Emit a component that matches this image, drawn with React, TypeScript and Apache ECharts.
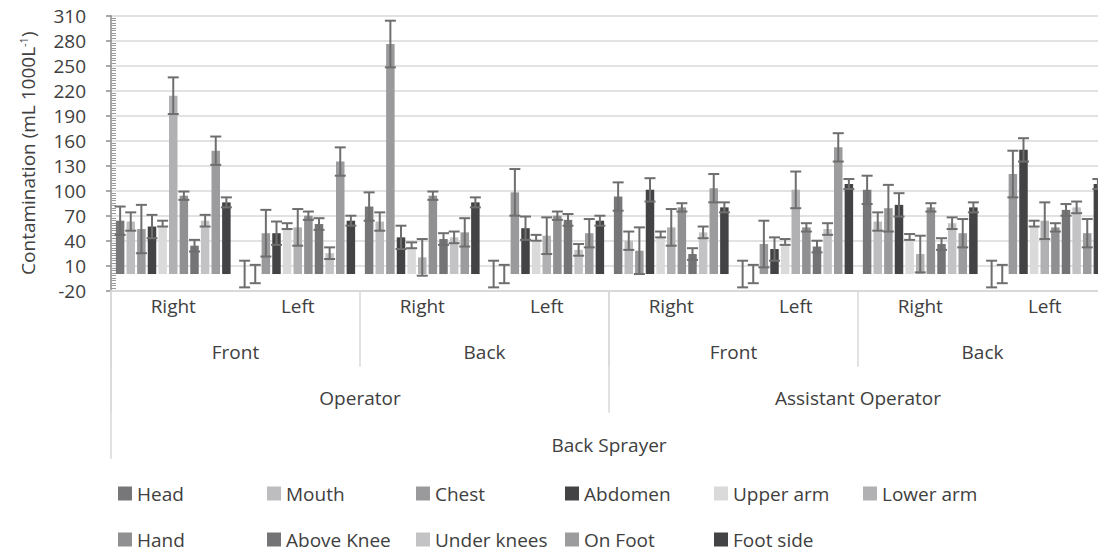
import React, { useEffect, useRef } from "react";
import * as echarts from "echarts";

const categories = ["Right", "Left", "Right", "Left", "Right", "Left", "Right", "Left"];
const sideLabels = ["Front", "Back", "Front", "Back"];
const roleLabels = ["Operator", "Assistant Operator"];
const sprayerLabels = ["Back Sprayer"];

const seriesNames = [
  "Head", "Mouth", "Chest", "Abdomen", "Upper arm", "Lower arm",
  "Hand", "Above Knee", "Under knees", "On Foot", "Foot side",
];
const seriesColors = [
  "#77777a", "#bdbdbf", "#9a9a9c", "#434345", "#dadadb", "#b1b1b3",
  "#909092", "#747477", "#c3c3c5", "#9c9c9e", "#434345",
];

// values per body part, in category order
const head = [64, 0, 81, 0, 93, 0, 101, 0];
const mouth = [63, 0, 63, 0, 40, 0, 63, 0];
const chest = [54, 49, 276, 98, 28, 36, 79, 120];
const abdomen = [57, 49, 44, 55, 101, 30, 83, 149];
const upperArm = [57, 54, 31, 40, 44, 35, 41, 57];
const lowerArm = [214, 56, 20, 46, 56, 101, 24, 64];
const hand = [94, 70, 94, 70, 80, 56, 80, 56];
const aboveKnee = [34, 60, 42, 65, 24, 33, 36, 77];
const underKnees = [64, 25, 44, 29, 50, 54, 61, 80];
const onFoot = [148, 135, 50, 49, 103, 152, 49, 49];
const footSide = [86, 64, 86, 64, 80, 108, 80, 108];

// error bar sizes (plus side)
const headErr = [17, 16, 17, 16, 17, 16, 17, 16];
const mouthErr = [11, 11, 11, 11, 11, 11, 11, 11];
const chestErr = [29, 28, 28, 28, 28, 28, 28, 28];
const abdomenErr = [14, 14, 14, 14, 14, 14, 14, 14];
const upperArmErr = [7, 7, 7, 7, 7, 7, 7, 7];
const lowerArmErr = [22, 22, 22, 22, 22, 22, 22, 22];
const handErr = [5, 5, 5, 5, 5, 5, 5, 5];
const aboveKneeErr = [7, 7, 7, 7, 7, 7, 7, 7];
const underKneesErr = [7, 7, 7, 7, 7, 7, 7, 7];
const onFootErr = [17, 17, 17, 17, 17, 17, 17, 17];
const footSideErr = [6, 6, 6, 6, 6, 6, 6, 6];
// Upper arm error bars only extend upward
const upperArmErrMinus = [0, 0, 0, 0, 0, 0, 0, 0];

const yTicksMin = -20;
const yTicksMax = 310;
const yTicksStep = 30;

const FONT = "'Open Sans', sans-serif";
const TEXT = "#404040";
const BAR_W = 8.5;
const BAR_GAP = 0.25;

export default function App() {
  const ref = useRef<HTMLDivElement>(null);

  useEffect(() => {
    document.body.style.margin = "0";
    const chart = echarts.init(ref.current!, null, { renderer: "svg" });

    const values = [head, mouth, chest, abdomen, upperArm, lowerArm, hand, aboveKnee, underKnees, onFoot, footSide];
    const errs = [headErr, mouthErr, chestErr, abdomenErr, upperArmErr, lowerArmErr, handErr, aboveKneeErr, underKneesErr, onFootErr, footSideErr];
    const errsMinus = errs.map((e, i) => (i === 4 ? upperArmErrMinus : e));

    const errData: number[][] = [];
    values.forEach((arr, si) => {
      arr.forEach((v, ci) => {
        errData.push([ci, si, v, errs[si][ci], errsMinus[si][ci]]);
      });
    });

    const barSeries = seriesNames.map((name, i) => ({
      name,
      type: "bar",
      data: values[i],
      barWidth: BAR_W,
      barGap: BAR_GAP * 100 + "%",
      itemStyle: { color: seriesColors[i] },
      xAxisIndex: 0,
      yAxisIndex: 0,
      silent: true,
    }));

    const step = BAR_W * (1 + BAR_GAP);
    const errSeries = {
      type: "custom",
      xAxisIndex: 0,
      yAxisIndex: 0,
      data: errData,
      z: 5,
      silent: true,
      encode: { x: 0, y: 2 },
      renderItem: (params: any, api: any) => {
        const ci = api.value(0);
        const si = api.value(1);
        const v = api.value(2);
        const p = api.value(3);
        const m = api.value(4);
        const c = api.coord([ci, v]);
        const x = c[0] + (si - 5) * step;
        const yT = api.coord([ci, v + p])[1];
        const yB = api.coord([ci, v - m])[1];
        const half = 5.5;
        const style = { stroke: "#6e6e6e", lineWidth: 2 };
        return {
          type: "group",
          children: [
            { type: "line", shape: { x1: x, y1: yT, x2: x, y2: yB }, style },
            { type: "line", shape: { x1: x - half, y1: yT, x2: x + half, y2: yT }, style },
            { type: "line", shape: { x1: x - half, y1: yB, x2: x + half, y2: yB }, style },
          ],
        };
      },
    };

    const legends = seriesNames.map((name, i) => {
      const row = i < 6 ? 0 : 1;
      const col = i < 6 ? i : i - 6;
      return {
        data: [name],
        left: 118 + col * 149,
        top: 484 + row * 46,
        padding: 0,
        itemWidth: 14,
        itemHeight: 14,
        icon: "rect",
        selectedMode: false,
        textStyle: { fontFamily: FONT, fontSize: 19, color: TEXT },
      };
    });

    const catAxisBase = {
      type: "category",
      gridIndex: 0,
      position: "bottom",
      boundaryGap: true,
      axisLine: { show: false, onZero: false },
      splitLine: { show: false },
    };

    const option: any = {
      animation: false,
      backgroundColor: "#ffffff",
      textStyle: { fontFamily: FONT },
      grid: { left: 111, top: 15.7, right: -9, bottom: 261.3, containLabel: false, outerBoundsMode: "none" },
      legend: legends,
      xAxis: [
        {
          ...catAxisBase,
          data: categories,
          axisLine: { show: true, onZero: false, lineStyle: { color: "#d9d9d9", width: 2 } },
          axisTick: { show: false },
          axisLabel: { interval: 0, margin: 6, fontFamily: FONT, fontSize: 19, color: TEXT },
        },
        {
          ...catAxisBase,
          data: sideLabels,
          axisTick: { show: true, interval: 0, length: 76, lineStyle: { color: "#d9d9d9", width: 1.5 } },
          axisLabel: { interval: 0, margin: 52, fontFamily: FONT, fontSize: 19, color: TEXT },
        },
        {
          ...catAxisBase,
          data: roleLabels,
          axisTick: { show: true, interval: 0, length: 122, lineStyle: { color: "#d9d9d9", width: 1.5 } },
          axisLabel: { interval: 0, margin: 98, fontFamily: FONT, fontSize: 19, color: TEXT },
        },
        {
          ...catAxisBase,
          data: sprayerLabels,
          axisTick: { show: true, interval: 0, length: 168, lineStyle: { color: "#d9d9d9", width: 1.5 } },
          axisLabel: { interval: 0, margin: 145, fontFamily: FONT, fontSize: 19, color: TEXT },
        },
      ],
      yAxis: [
        {
          type: "value",
          min: yTicksMin,
          max: yTicksMax,
          interval: yTicksStep,
          position: "left",
          name: "{t|Contamination (mL 1000L}{s|-1}{t|)}",
          nameLocation: "middle",
          nameGap: 74,
          nameRotate: 90,
          nameTextStyle: {
            rich: {
              t: { fontFamily: FONT, fontSize: 19, color: TEXT },
              s: { fontFamily: FONT, fontSize: 11, color: TEXT, verticalAlign: "top", padding: [0, 0, 8, 0] },
            },
          },
          axisLine: { show: true, onZero: false, lineStyle: { color: "#8c8c8c", width: 1.5 } },
          axisTick: { show: true, inside: false, length: 5, lineStyle: { color: "#8c8c8c", width: 1.5 } },
          axisLabel: { margin: 25, fontFamily: FONT, fontSize: 19, color: TEXT },
          splitLine: { show: true, lineStyle: { color: "#d9d9d9", width: 1.5 } },
        },
        {
          type: "value",
          min: yTicksMin,
          max: yTicksMax,
          interval: yTicksStep,
          position: "left",
          axisLine: { show: false, onZero: false },
          axisTick: { show: false, inside: true },
          minorTick: { show: true, splitNumber: 10, length: 5, lineStyle: { color: "#9a9a9a", width: 1 } },
          axisLabel: { show: false },
          splitLine: { show: false },
        },
      ],
      series: [...barSeries, errSeries],
    };

    chart.setOption(option);
    return () => chart.dispose();
  }, []);

  return <div ref={ref} style={{ width: 1098, height: 552 }} />;
}
